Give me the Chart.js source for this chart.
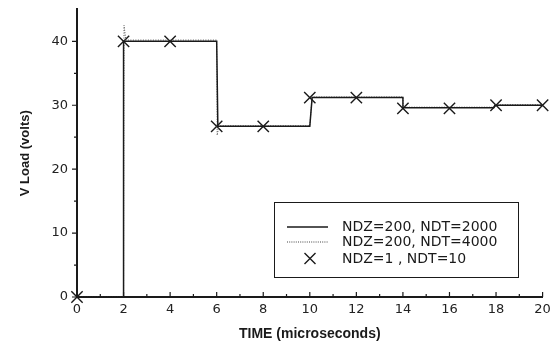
<!DOCTYPE html>
<html>
<head>
<meta charset="utf-8">
<script src="https://cdn.jsdelivr.net/npm/chart.js@4.4.1/dist/chart.umd.min.js"></script>
<style>
  html, body { margin: 0; padding: 0; background: #fff; }
  #wrap { width: 552px; height: 348px; }
</style>
</head>
<body>
<div id="wrap"><canvas id="c" width="552" height="348"></canvas></div>
<script>
// ---- data ----
const xTitle = 'TIME (microseconds)';
const yTitle = 'V Load (volts)';
const legendLabels = ['NDZ=200, NDT=2000', 'NDZ=200, NDT=4000', 'NDZ=1 , NDT=10'];

const solidX = [0, 2, 2, 6, 6.05, 10, 10.1, 14, 14, 17.9, 17.95, 20];
const solidY = [0, 0, 40, 40, 26.7, 26.7, 31.2, 31.2, 29.6, 29.6, 30.0, 30.0];

const dottedX = [0, 2, 2.02, 2.1, 6, 6.02, 6.1, 10, 10.1, 14, 14.02, 17.9, 17.95, 20];
const dottedY = [0, 0, 42.5, 40.2, 40.2, 25.3, 26.8, 26.8, 31.3, 31.3, 29.7, 29.7, 30.1, 30.1];

const coarseX = [0, 2, 4, 6, 8, 10, 12, 14, 16, 18, 20];
const coarseY = [0, 40, 40, 26.7, 26.7, 31.2, 31.2, 29.5, 29.5, 30.0, 30.0];

const xMin = 0, xMax = 20, yMin = 0, yMax = 45;

function pts(xs, ys) { return xs.map((x, i) => ({x: x, y: ys[i]})); }

const INK = '#1a1a1a';
const tickFont = {family: 'DejaVu Sans', size: 13};

const ticksPlugin = {
  id: 'ticksPlugin',
  afterDraw(chart) {
    const ctx = chart.ctx;
    const xs = chart.scales.x, ys = chart.scales.y;
    const area = chart.chartArea;
    ctx.save();
    ctx.strokeStyle = INK;
    ctx.lineWidth = 1.2;
    ctx.beginPath();
    for (let v = xMin; v <= xMax; v += 1) {
      const px = xs.getPixelForValue(v);
      const len = (v % 2 === 0) ? 5 : 3;
      ctx.moveTo(px, area.bottom);
      ctx.lineTo(px, area.bottom - len);
    }
    for (let v = yMin; v <= 40; v += 5) {
      const py = ys.getPixelForValue(v);
      const len = (v % 10 === 0) ? 5 : 3;
      ctx.moveTo(area.left, py);
      ctx.lineTo(area.left - len, py);
    }
    ctx.stroke();

    // legend box
    const L = 274, T = 202, R = 518, B = 277;
    ctx.lineWidth = 1;
    ctx.strokeRect(L + 0.5, T + 0.5, R - L, B - T);
    const rows = [227, 241.5, 258.5];
    const sx0 = 287, sx1 = 328, tx = 342;
    ctx.lineWidth = 1.5;
    ctx.beginPath(); ctx.moveTo(sx0, rows[0]); ctx.lineTo(sx1, rows[0]); ctx.stroke();
    ctx.lineWidth = 1;
    ctx.strokeStyle = '#444';
    ctx.setLineDash([1, 1.2]);
    ctx.beginPath(); ctx.moveTo(sx0, rows[1] + 0.5); ctx.lineTo(sx1, rows[1] + 0.5); ctx.stroke();
    ctx.setLineDash([]);
    ctx.strokeStyle = INK;
    ctx.lineWidth = 1.4;
    const cx = 310, cy = rows[2], h = 5.5;
    ctx.beginPath();
    ctx.moveTo(cx - h, cy - h); ctx.lineTo(cx + h, cy + h);
    ctx.moveTo(cx + h, cy - h); ctx.lineTo(cx - h, cy + h);
    ctx.stroke();
    ctx.fillStyle = INK;
    ctx.font = '14px "DejaVu Sans"';
    ctx.textBaseline = 'middle';
    ctx.textAlign = 'left';
    legendLabels.forEach((t, i) => ctx.fillText(t, tx, rows[i] + 0.5));
    ctx.restore();
  }
};

new Chart(document.getElementById('c'), {
  type: 'scatter',
  data: {
    datasets: [
      {
        label: legendLabels[0],
        data: pts(solidX, solidY),
        showLine: true,
        borderColor: INK,
        borderWidth: 1.5,
        pointRadius: 0,
        fill: false,
        tension: 0
      },
      {
        label: legendLabels[1],
        data: pts(dottedX, dottedY),
        showLine: true,
        borderColor: '#555',
        borderWidth: 1,
        borderDash: [1, 1.5],
        pointRadius: 0,
        fill: false,
        tension: 0
      },
      {
        label: legendLabels[2],
        data: pts(coarseX, coarseY),
        showLine: false,
        clip: false,
        pointStyle: 'crossRot',
        pointRadius: 8,
        pointBorderWidth: 1.4,
        pointBorderColor: INK,
        pointBackgroundColor: INK
      }
    ]
  },
  options: {
    responsive: false,
    animation: false,
    devicePixelRatio: 1,
    layout: { padding: {left: 14, right: 9, top: 3, bottom: 5} },
    plugins: { legend: {display: false}, tooltip: {enabled: false} },
    scales: {
      x: {
        type: 'linear',
        min: xMin, max: xMax,
        grid: { display: true, drawOnChartArea: false, drawTicks: false, color: 'rgba(0,0,0,0)' },
        border: { display: true, color: INK, width: 2 },
        ticks: {
          stepSize: 1, autoSkip: false, maxRotation: 0, padding: 5,
          color: '#222', font: tickFont,
          callback: v => (v % 2 === 0 ? String(v) : '')
        },
        title: {
          display: true, text: xTitle, color: INK,
          font: {family: 'Liberation Sans', size: 14, weight: 'bold'},
          padding: {top: 0, bottom: 0}
        },
        afterFit(s) { s.height = 348 - 5 - 297; s.paddingLeft = 0; s.paddingRight = 0; }
      },
      y: {
        type: 'linear',
        min: yMin, max: yMax,
        grid: { display: true, drawOnChartArea: false, drawTicks: false, color: 'rgba(0,0,0,0)' },
        border: { display: true, color: INK, width: 2 },
        ticks: {
          stepSize: 5, autoSkip: false, padding: 9,
          color: '#222', font: tickFont,
          callback: v => (v % 10 === 0 && v <= 40 ? String(v) : '')
        },
        title: {
          display: true, text: yTitle, color: INK,
          font: {family: 'Liberation Sans', size: 13, weight: 'bold'},
          padding: {top: 4, bottom: 0}
        },
        afterFit(s) { s.width = 77 - 14; s.paddingTop = 0; s.paddingBottom = 0; }
      }
    }
  },
  plugins: [ticksPlugin]
});
</script>
</body>
</html>
